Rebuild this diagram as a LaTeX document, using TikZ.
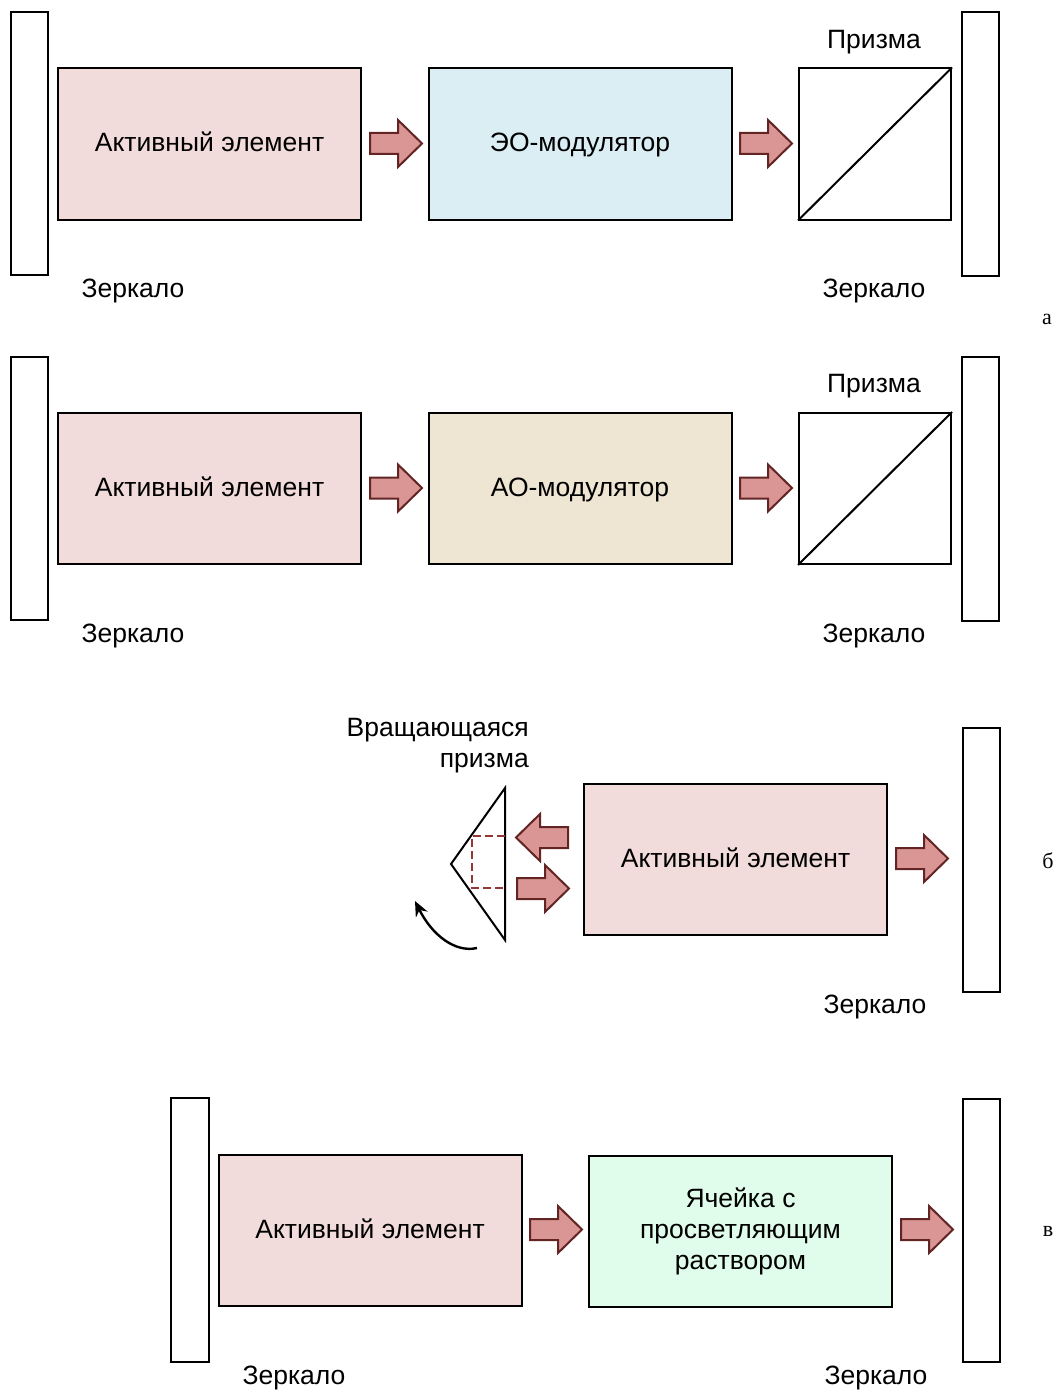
\documentclass[tikz,border=0pt]{standalone}
\usepackage{fontspec}
\setmainfont{Liberation Sans}
\newfontfamily\serifx{Liberation Serif}
\usetikzlibrary{arrows.meta}
\definecolor{pinkfill}{HTML}{F2DCDB}
\definecolor{bluefill}{HTML}{DBEEF4}
\definecolor{tanfill}{HTML}{EEE5D3}
\definecolor{greenfill}{HTML}{E0FCEA}
\definecolor{arrfill}{HTML}{D99694}
\definecolor{arrdraw}{HTML}{632523}
\definecolor{dashred}{HTML}{953735}
\begin{document}
\begin{tikzpicture}[x=1pt,y=-1pt,
  every node/.style={font=\fontsize{26.5}{31}\selectfont},
  elem/.style={draw,line width=2pt,inner sep=0pt,minimum width=303pt,minimum height=151pt,align=center},
  oneline/.style={text height=19pt,text depth=4pt},
  mirror/.style={draw,line width=1.3pt,fill=white},
  blockarr/.style={draw=arrdraw,fill=arrfill,line width=2pt,line join=miter},
  lbl/.style={inner sep=0pt},
  panel/.style={font=\serifx\fontsize{22}{26}\selectfont,inner sep=0pt},
  pics/barrow/.style={code={\path[blockarr] (0,-10.5) -- (28,-10.5) -- (28,-23.5) -- (52,0) -- (28,23.5) -- (28,10.5) -- (0,10.5) -- cycle;}}]
\useasboundingbox (0,0) rectangle (1059,1391);
% ---------- panel a (top) ----------
\draw[mirror] (11,12) rectangle (48,275);
\node[elem,oneline,fill=pinkfill] (ae1) at (209.5,144) {Активный элемент};
\pic (ar1) at (370,143.5) {barrow};
\node[elem,oneline,fill=bluefill] (eo) at (580,144) {ЭО-модулятор};
\pic (ar2) at (740,143.5) {barrow};
\node[draw,line width=2pt,minimum width=152pt,minimum height=151pt,inner sep=0pt] (pr1) at (875,144) {};
\draw[line width=2pt] (pr1.south west) -- (pr1.north east);
\draw[mirror] (962,12) rectangle (999,276);
\node[lbl] (tp1) at (874,42) {Призма};
\node[lbl] (tz1) at (133,291) {Зеркало};
\node[lbl] (tz2) at (874,291) {Зеркало};
\node[panel] (la) at (1047,319) {а};
% ---------- panel a (second) ----------
\draw[mirror] (11,357) rectangle (48,620);
\node[elem,oneline,fill=pinkfill] (ae2) at (209.5,488.5) {Активный элемент};
\pic (ar3) at (370,488) {barrow};
\node[elem,oneline,fill=tanfill] (ao) at (580,488.5) {АО-модулятор};
\pic (ar4) at (740,488) {barrow};
\node[draw,line width=2pt,minimum width=152pt,minimum height=151pt,inner sep=0pt] (pr2) at (875,488.5) {};
\draw[line width=2pt] (pr2.south west) -- (pr2.north east);
\draw[mirror] (962,357) rectangle (999,621);
\node[lbl] (tp2) at (874,386) {Призма};
\node[lbl] (tz3) at (133,636) {Зеркало};
\node[lbl] (tz4) at (874,636) {Зеркало};
% ---------- panel б ----------
\node[lbl,align=right,anchor=north east] (vp) at (529,718) {Вращающаяся\\призма};
\draw[line width=2pt,line join=miter] (505,788) coordinate (t1) -- (505,940) coordinate (t2) -- (451,864) coordinate (t3) -- cycle;
\draw[dashred,line width=2pt,dash pattern=on 8pt off 4pt] (505,836) -- (472,836) -- (472,888) -- (505,888);
\pic[xscale=-1] (ar5) at (568,837.5) {barrow};
\pic (ar6) at (517,888.5) {barrow};
\node[elem,oneline,fill=pinkfill] (ae3) at (735.5,859.5) {Активный элемент};
\pic (ar7) at (896,858.5) {barrow};
\draw[mirror] (963,728) rectangle (1000,992);
\node[lbl] (tz5) at (875,1007) {Зеркало};
\node[panel] (lb) at (1048,861) {б};
\coordinate (cs) at (477,948);
\coordinate (ce) at (415,901);
\draw[line width=2.4pt,-{Stealth[length=15pt,width=13pt]}] (cs) .. controls (455,953) and (432,935) .. (ce);
% ---------- panel в ----------
\draw[mirror] (171,1098) rectangle (209,1362);
\node[elem,oneline,fill=pinkfill] (ae4) at (370,1230.5) {Активный элемент};
\pic (ar8) at (530,1229.5) {barrow};
\node[elem,fill=greenfill] (cell) at (740.5,1231.5) {Ячейка с\\просветляющим\\раствором};
\pic (ar9) at (901,1229.5) {barrow};
\draw[mirror] (963,1099) rectangle (1000,1362);
\node[lbl] (tz6) at (294,1378) {Зеркало};
\node[lbl] (tz7) at (876,1378) {Зеркало};
\node[panel] (lv) at (1048,1231) {в};
\end{tikzpicture}
\end{document}
